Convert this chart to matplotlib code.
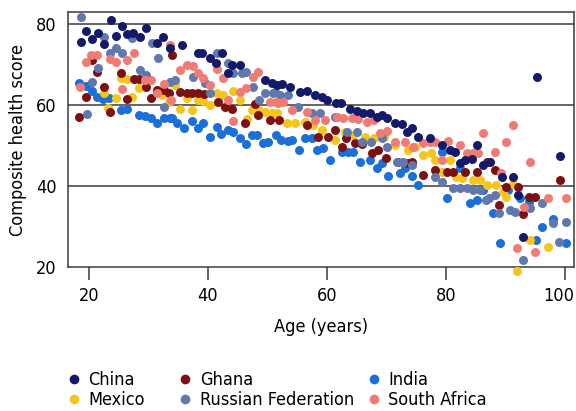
import os
import matplotlib
matplotlib.use('Agg')
import matplotlib.pyplot as plt
import matplotlib.font_manager as fm
import matplotlib.transforms as mtransforms
from matplotlib.font_manager import FontProperties
from matplotlib.lines import Line2D

# the reference uses a condensed sans; look for a narrow face among the installed fonts
def pick_condensed():
    bad = ('bold', 'italic', 'light', 'medium', 'black', 'thin', 'semi', 'extra', 'oblique')
    files = [f.fname for f in fm.fontManager.ttflist]
    for pat, size in (('liberationsansnarrow-regular', 14), ('notosans-extracondensed', 14),
                      ('notosans-condensed', 13.5), ('dejavusanscondensed', 13)):
        for p in files:
            b = os.path.basename(p).lower()
            if b.startswith(pat) and not any(w in b.replace(pat, '') for w in bad):
                return p, size
    return None, 12

font_path, font_size = pick_condensed()
if font_path:
    fp = FontProperties(fname=font_path, size=font_size)
else:
    fp = FontProperties(family=['Liberation Sans', 'DejaVu Sans'], size=font_size)

# colours for each country
colours = {
    'China': '#141a6b',
    'Ghana': '#7d1111',
    'India': '#1a6fd8',
    'Mexico': '#f6c51b',
    'Russian Federation': '#6078ad',
    'South Africa': '#f07b74',
}

# values (age, composite health score)
china_age = [18.7, 19.5, 20.5, 21.5, 22.5, 23.7, 24.5, 25.5, 26.5, 27.5, 28.6, 29.6, 31.4, 32.4, 33.6,
             35.6, 38.3, 39.0, 40.3, 41.4, 42.4, 43.4, 44.1, 45.4, 49.6, 50.8, 51.6, 52.4, 53.8, 55.5,
             56.7, 58.0, 59.2, 60.0, 61.5, 62.4, 63.9, 65.1, 66.1, 67.3, 68.4, 69.2, 70.2, 71.4, 72.6,
             73.4, 74.4, 75.3, 77.3, 79.3, 80.7, 81.5, 82.4, 83.2, 84.4, 85.2, 86.2, 87.4, 89.4, 91.3,
             92.1, 93.0, 95.3, 99.2]
china_val = [75.6, 78.3, 76.3, 77.8, 75.1, 81.0, 77.0, 79.5, 77.5, 77.8, 76.8, 79.0, 75.3, 76.8, 74.0,
             74.8, 72.8, 72.8, 71.6, 70.4, 72.8, 67.9, 69.9, 69.9, 66.2, 65.4, 65.0, 65.2, 64.4, 63.2,
             63.6, 62.5, 62.0, 61.2, 60.5, 60.5, 59.0, 58.5, 58.0, 58.0, 57.0, 57.5, 56.8, 55.6, 55.3,
             53.3, 54.3, 52.1, 51.9, 50.1, 48.9, 48.4, 45.7, 46.4, 46.7, 50.1, 45.2, 46.0, 42.2, 42.2,
             37.8, 27.4, 67.0, 47.4]

ghana_age = [18.3, 19.5, 20.5, 21.3, 22.5, 23.5, 25.4, 26.4, 27.6, 28.4, 29.6, 30.4, 31.4, 32.6, 33.4,
             34.0, 35.3, 36.5, 37.3, 38.3, 39.3, 41.7, 42.9, 44.0, 46.2, 47.9, 48.4, 50.4, 52.0, 56.6,
             58.5, 60.2, 61.3, 62.5, 63.3, 64.7, 66.0, 67.6, 68.6, 70.0, 71.9, 73.6, 74.4, 76.1, 78.2,
             80.2, 81.2, 83.2, 85.2, 87.0, 88.2, 89.0, 90.2, 92.1, 93.0, 94.0, 95.0, 99.2]
ghana_val = [57.0, 62.0, 71.1, 68.1, 64.4, 58.3, 68.0, 61.5, 66.4, 66.4, 64.4, 61.7, 63.7, 63.7, 62.9,
             72.3, 63.2, 63.0, 63.0, 63.0, 62.8, 60.7, 59.5, 59.0, 55.6, 60.2, 57.5, 56.3, 56.3, 55.0,
             52.1, 52.1, 53.8, 49.6, 51.9, 50.6, 50.4, 48.1, 48.9, 46.9, 45.9, 45.7, 45.9, 42.7, 44.0,
             43.5, 43.5, 43.5, 43.5, 45.9, 44.0, 35.3, 39.8, 39.8, 33.0, 37.3, 37.3, 41.5]

india_age = [18.3, 19.5, 20.5, 21.3, 22.4, 23.4, 25.4, 26.4, 28.4, 29.4, 30.4, 31.4, 32.6, 33.6, 34.0,
             34.8, 36.0, 37.3, 38.3, 39.2, 40.3, 41.5, 42.3, 43.4, 44.2, 45.4, 46.4, 47.4, 48.2, 49.2,
             50.2, 51.4, 52.3, 53.4, 54.2, 55.3, 56.4, 57.5, 58.3, 59.3, 60.5, 62.5, 63.5, 64.4, 65.5,
             67.2, 68.4, 69.2, 70.3, 72.3, 73.1, 74.3, 75.3, 79.3, 80.2, 82.4, 84.0, 85.2, 86.2, 87.9,
             89.1, 90.4, 92.4, 94.0, 95.1, 96.1, 98.1, 100.2]
india_val = [65.4, 64.7, 63.5, 62.0, 61.5, 61.7, 58.8, 59.0, 57.5, 57.3, 56.8, 55.6, 56.8, 56.8, 56.8,
             55.6, 54.3, 56.0, 54.3, 55.6, 52.1, 54.6, 52.8, 53.8, 53.3, 51.9, 50.4, 52.6, 52.6, 50.6,
             50.9, 52.6, 51.4, 51.1, 51.4, 48.9, 51.9, 51.9, 48.9, 49.4, 46.4, 48.4, 48.4, 48.4, 45.9,
             46.4, 44.4, 45.7, 42.5, 43.2, 44.4, 42.5, 40.2, 48.4, 37.0, 44.4, 35.8, 36.5, 39.0, 33.3,
             25.9, 39.0, 37.0, 36.0, 26.7, 29.9, 31.9, 25.9]

mexico_age = [22.5, 23.3, 24.5, 25.4, 26.4, 27.2, 28.4, 32.3, 33.4, 34.5, 35.3, 36.5, 37.3, 38.3, 39.2,
              40.3, 41.5, 42.5, 44.2, 45.4, 46.6, 47.4, 48.4, 49.6, 50.8, 51.6, 53.3, 54.6, 56.3, 57.6,
              59.2, 61.3, 63.0, 64.4, 66.4, 68.0, 69.7, 71.4, 73.6, 74.8, 76.1, 77.6, 78.2, 79.3, 80.7,
              81.7, 82.7, 84.5, 85.7, 86.9, 88.4, 89.6, 90.2, 91.3, 91.9, 94.1, 97.1]
mexico_val = [63.0, 59.3, 61.7, 66.7, 66.4, 62.0, 64.2, 62.5, 60.7, 65.0, 59.0, 61.7, 58.8, 61.2, 61.0,
              60.0, 63.0, 62.5, 63.5, 61.2, 56.5, 58.8, 59.0, 58.3, 58.0, 58.0, 55.6, 55.6, 55.8, 55.0,
              53.8, 51.4, 53.3, 52.6, 52.1, 51.9, 52.1, 50.1, 48.9, 49.6, 47.7, 48.1, 46.4, 43.5, 46.4,
              42.2, 42.0, 41.5, 41.5, 40.2, 40.2, 38.5, 37.3, 40.5, 19.0, 26.7, 25.0]

russia_age = [18.7, 19.7, 20.5, 21.5, 22.5, 23.5, 24.5, 25.5, 27.2, 28.6, 29.6, 30.6, 31.6, 32.6, 33.6,
              34.5, 37.5, 39.5, 40.3, 41.5, 43.4, 44.2, 45.7, 46.5, 47.6, 48.6, 49.6, 50.9, 51.3, 52.2,
              53.4, 55.1, 57.5, 58.9, 61.3, 63.4, 65.1, 66.0, 67.5, 69.2, 70.2, 71.8, 72.8, 74.3, 78.2,
              79.3, 81.2, 82.4, 83.5, 84.5, 85.7, 86.7, 87.2, 88.2, 89.0, 90.8, 91.6, 93.0, 94.1, 96.1,
              98.1, 99.0, 100.2]
russia_val = [81.7, 57.8, 65.7, 69.1, 76.8, 72.8, 74.0, 72.8, 76.5, 68.6, 67.4, 75.3, 71.6, 59.5, 65.7,
              66.2, 66.9, 65.4, 63.0, 72.8, 70.4, 67.9, 67.9, 68.1, 64.4, 61.2, 62.9, 62.9, 63.2, 62.5,
              62.5, 59.5, 58.0, 58.0, 57.0, 53.3, 53.3, 50.9, 50.9, 51.9, 49.6, 45.9, 45.9, 45.2, 42.2,
              41.0, 39.5, 39.5, 39.5, 39.0, 39.0, 36.5, 37.0, 37.8, 33.3, 34.0, 33.6, 21.7, 34.6, 35.8,
              30.9, 26.2, 31.1]

safrica_age = [18.5, 19.5, 20.3, 21.3, 23.5, 24.5, 25.5, 26.4, 27.6, 29.4, 30.4, 31.4, 32.6, 33.6, 33.9,
               35.3, 36.5, 37.5, 38.3, 39.2, 40.3, 41.5, 42.5, 43.4, 44.2, 45.4, 46.5, 47.6, 48.4, 50.4,
               51.5, 51.8, 52.7, 54.1, 56.6, 58.0, 59.7, 61.7, 62.7, 64.2, 65.2, 66.7, 68.0, 68.9, 70.2,
               71.4, 73.1, 74.5, 76.1, 77.3, 78.2, 79.3, 80.3, 82.4, 83.5, 84.5, 85.4, 86.2, 88.2, 89.2,
               90.2, 91.3, 92.0, 93.1, 94.1, 95.0, 97.1, 100.2]
safrica_val = [64.4, 70.6, 72.3, 72.3, 71.4, 70.6, 64.0, 71.1, 72.8, 66.2, 66.2, 63.0, 65.2, 74.8, 61.2,
               68.6, 69.9, 69.6, 67.9, 66.7, 64.9, 68.9, 66.7, 61.2, 56.0, 63.2, 64.2, 67.0, 68.1, 60.7,
               60.7, 60.5, 60.7, 58.8, 58.3, 56.3, 56.3, 57.0, 56.8, 56.8, 56.5, 55.8, 56.3, 53.1, 53.6,
               50.9, 50.9, 49.6, 50.6, 50.9, 50.9, 46.4, 51.1, 50.1, 48.1, 48.1, 48.1, 53.1, 48.4, 43.2,
               50.9, 55.0, 24.7, 34.8, 45.9, 23.7, 37.0, 37.0]

series = [
    ('India', india_age, india_val),
    ('Mexico', mexico_age, mexico_val),
    ('Ghana', ghana_age, ghana_val),
    ('Russian Federation', russia_age, russia_val),
    ('South Africa', safrica_age, safrica_val),
    ('China', china_age, china_val),
]

legend_cols = [['China', 'Mexico'], ['Ghana', 'Russian Federation'], ['India', 'South Africa']]

fig = plt.figure(figsize=(5.76, 4.11), dpi=100)
ax = fig.add_axes([0.118, 0.350, 0.878, 0.621])

for name, ages, vals in series:
    ax.scatter(ages, vals, s=42, c=colours[name], linewidths=0, clip_on=False, zorder=3)

ax.set_xlim(16.5, 101.5)
ax.set_ylim(20, 83)

# horizontal grid lines only at 40, 60, 80
for yv in [40, 60, 80]:
    ax.axhline(yv, color='#3a3a3a', lw=1.1, zorder=1)

for sp in ax.spines.values():
    sp.set_color('#3a3a3a')
    sp.set_linewidth(1.1)

ax.set_xticks([20, 40, 60, 80, 100])
ax.set_yticks([20, 40, 60, 80])
ax.tick_params(axis='x', direction='out', length=9, width=1.1, color='#3a3a3a', pad=5)
ax.tick_params(axis='y', length=0, pad=8)
for lab in ax.get_xticklabels() + ax.get_yticklabels():
    lab.set_fontproperties(fp)

# nudge the "100" label left so it stays inside the figure
last = ax.get_xticklabels()[-1]
last.set_transform(last.get_transform() + mtransforms.ScaledTranslation(-4 / 72, 0, fig.dpi_scale_trans))

ax.set_xlabel('Age (years)', fontproperties=fp, labelpad=10)
ax.set_ylabel('Composite health score', fontproperties=fp, labelpad=7)

# legend: three columns, two rows
col_x = [0.106, 0.300, 0.627]
for names, x0 in zip(legend_cols, col_x):
    handles = [Line2D([], [], marker='o', ls='none', ms=7, mfc=colours[n], mec='none') for n in names]
    fig.legend(handles, names, loc='lower left', bbox_to_anchor=(x0, -0.004), frameon=False,
               prop=fp, handletextpad=0.3, labelspacing=0.1, handlelength=1.0,
               borderpad=0.2, borderaxespad=0)

fig.savefig('out.png', dpi=100)
